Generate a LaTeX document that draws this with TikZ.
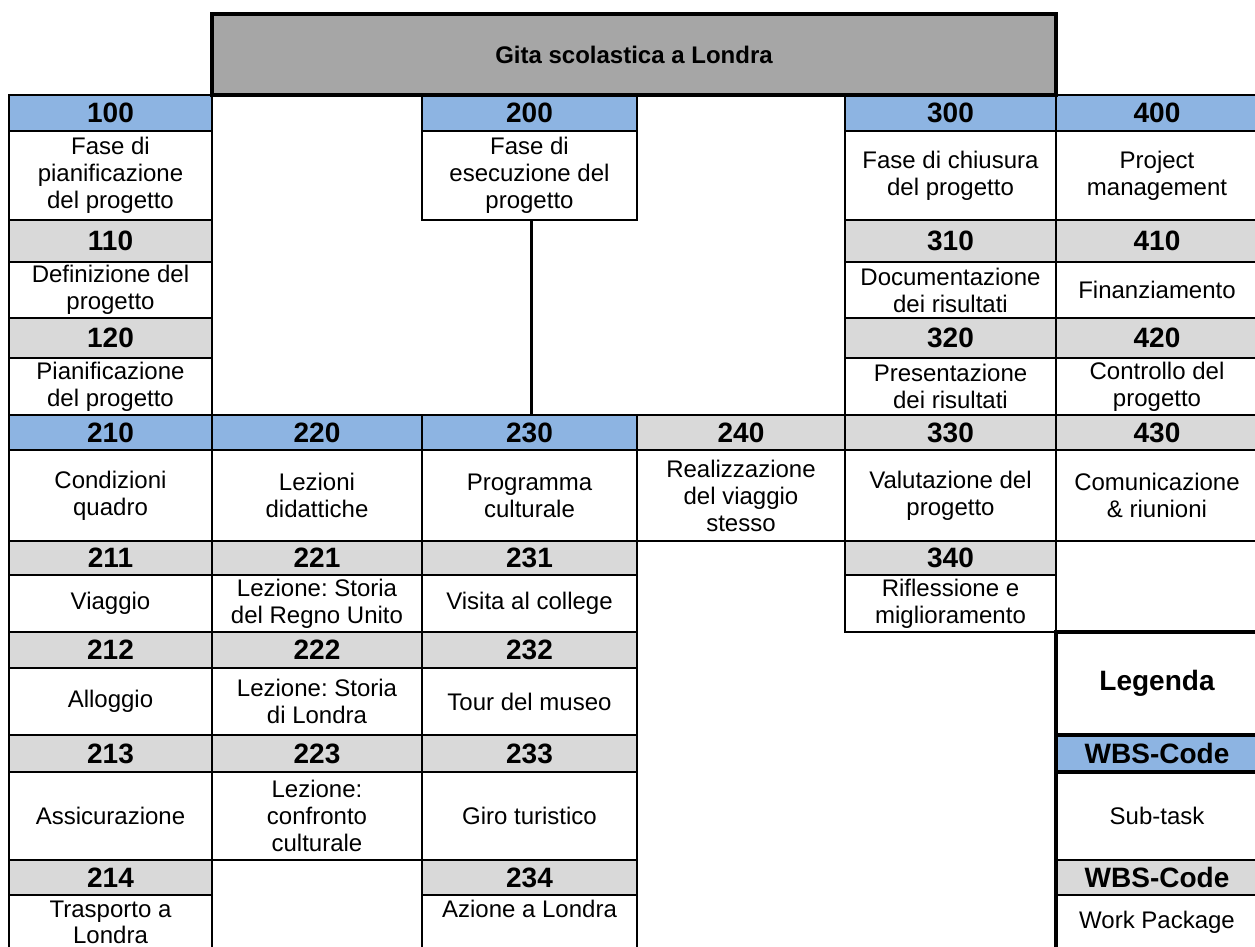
\documentclass[tikz,border=0pt]{standalone}
\usepackage{fontspec}
\setmainfont{Liberation Sans}
\definecolor{wbsblue}{HTML}{8DB4E2}
\definecolor{wbsgrey}{HTML}{D9D9D9}
\definecolor{wbstitle}{HTML}{A6A6A6}
\frenchspacing

\begin{document}
\begin{tikzpicture}[x=1pt,y=-1pt,
	cellbox/.style={draw, line width=1.6pt, inner sep=0pt, outer sep=0pt, anchor=north west, align=center},
	codeblue/.style={cellbox, fill=wbsblue, font=\fontsize{28}{30}\selectfont\bfseries},
	codegrey/.style={cellbox, fill=wbsgrey, font=\fontsize{28}{30}\selectfont\bfseries},
	task/.style={cellbox, fill=white, font=\fontsize{24}{27}\selectfont},
	sz/.style 2 args={minimum width=#1pt, minimum height=#2pt},
	heavy/.style={line width=4pt}
	]
	\useasboundingbox (0,0) rectangle (1255,946);
	
	% phases
	\node[codeblue, sz={203}{36}] (h100) at (9,95) {100};
	\node[task, sz={203}{89}] (t100) at (9,131) {Fase di\\pianificazione\\del progetto};
	\node[codeblue, sz={215}{36}] (h200) at (422,95) {200};
	\node[task, sz={215}{89}] (t200) at (422,131) {Fase di\\esecuzione del\\progetto};
	\node[codeblue, sz={211}{36}] (h300) at (845,95) {300};
	\node[task, sz={211}{89}] (t300) at (845,131) {Fase di chiusura\\del progetto};
	\node[codeblue, sz={202}{36}] (h400) at (1056,95) {400};
	\node[task, sz={202}{89}] (t400) at (1056,131) {Project\\management};
	
	% 110 / 310 / 410
	\node[codegrey, sz={203}{42}] (h110) at (9,220) {110};
	\node[task, sz={203}{56}] (t110) at (9,262) {Definizione del\\progetto};
	\node[codegrey, sz={211}{42}] (h310) at (845,220) {310};
	\node[task, sz={211}{56}] (t310) at (845,262) {Documentazione\\dei risultati};
	\node[codegrey, sz={202}{42}] (h410) at (1056,220) {410};
	\node[task, sz={202}{56}] (t410) at (1056,262) {Finanziamento};
	
	% 120 / 320 / 420
	\node[codegrey, sz={203}{40}] (h120) at (9,318) {120};
	\node[task, sz={203}{57}] (t120) at (9,358) {Pianificazione\\del progetto};
	\node[codegrey, sz={211}{40}] (h320) at (845,318) {320};
	\node[task, sz={211}{57}] (t320) at (845,358) {Presentazione\\dei risultati};
	\node[codegrey, sz={202}{40}] (h420) at (1056,318) {420};
	\node[task, sz={202}{57}] (t420) at (1056,358) {Controllo del\\progetto};
	
	% x10 / x20 / x30 / 240
	\node[codeblue, sz={203}{35}] (h210) at (9,415) {210};
	\node[task, sz={203}{91}] (t210) at (9,450) {Condizioni\\quadro};
	\node[codeblue, sz={210}{35}] (h220) at (212,415) {220};
	\node[task, sz={210}{91}] (t220) at (212,450) {Lezioni\\didattiche};
	\node[codeblue, sz={215}{35}] (h230) at (422,415) {230};
	\node[task, sz={215}{91}] (t230) at (422,450) {Programma\\culturale};
	\node[codegrey, sz={208}{35}] (h240) at (637,415) {240};
	\node[task, sz={208}{91}] (t240) at (637,450) {Realizzazione\\del viaggio\\stesso};
	\node[codegrey, sz={211}{35}] (h330) at (845,415) {330};
	\node[task, sz={211}{91}] (t330) at (845,450) {Valutazione del\\progetto};
	\node[codegrey, sz={202}{35}] (h430) at (1056,415) {430};
	\node[task, sz={202}{91}] (t430) at (1056,450) {Comunicazione\\\& riunioni};
	
	% x11 / 340
	\node[codegrey, sz={203}{34}] (h211) at (9,541) {211};
	\node[task, sz={203}{57}] (t211) at (9,575) {Viaggio};
	\node[codegrey, sz={210}{34}] (h221) at (212,541) {221};
	\node[task, sz={210}{57}] (t221) at (212,575) {Lezione: Storia\\del Regno Unito};
	\node[codegrey, sz={215}{34}] (h231) at (422,541) {231};
	\node[task, sz={215}{57}] (t231) at (422,575) {Visita al college};
	\node[codegrey, sz={211}{34}] (h340) at (845,541) {340};
	\node[task, sz={211}{57}] (t340) at (845,575) {Riflessione e\\miglioramento};
	
	% x12
	\node[codegrey, sz={203}{36}] (h212) at (9,632) {212};
	\node[task, sz={203}{67}] (t212) at (9,668) {Alloggio};
	\node[codegrey, sz={210}{36}] (h222) at (212,632) {222};
	\node[task, sz={210}{67}] (t222) at (212,668) {Lezione: Storia\\di Londra};
	\node[codegrey, sz={215}{36}] (h232) at (422,632) {232};
	\node[task, sz={215}{67}] (t232) at (422,668) {Tour del museo};
	
	% x13
	\node[codegrey, sz={203}{37}] (h213) at (9,735) {213};
	\node[task, sz={203}{88}] (t213) at (9,772) {Assicurazione};
	\node[codegrey, sz={210}{37}] (h223) at (212,735) {223};
	\node[task, sz={210}{88}] (t223) at (212,772) {Lezione:\\confronto\\culturale};
	\node[codegrey, sz={215}{37}] (h233) at (422,735) {233};
	\node[task, sz={215}{88}] (t233) at (422,772) {Giro turistico};
	
	% x14 (bottom edge runs off the page)
	\node[codegrey, sz={203}{35}] (h214) at (9,860) {214};
	\node[task, sz={203}{54}, font=\fontsize{24}{26}\selectfont] (t214) at (9,895) {Trasporto a\\Londra};
	\node[codegrey, sz={215}{35}] (h234) at (422,860) {234};
	\node[task, sz={215}{54}, font=\fontsize{24}{26}\selectfont] (t234) at (422,895) {Azione a Londra\\\mbox{}};
	
	% legend
	\node[task, sz={202}{103}, heavy, font=\fontsize{28}{30}\selectfont\bfseries] (legenda) at (1056,632) {Legenda};
	\node[task, sz={202}{88}] (subtask) at (1056,772) {Sub-task};
	\node[codegrey, sz={202}{35}] (codewp) at (1056,860) {WBS-Code};
	\node[task, sz={202}{54}] (workpkg) at (1056,895) {Work Package};
	\node[codeblue, sz={202}{37}, heavy] (codest) at (1056,735) {WBS-Code};
	\draw[heavy] (legenda.north west) -- (workpkg.south west);
	
	% link 200 -> 230
	\draw[line width=3.3pt] ([xshift=2pt]t200.south) -- ([xshift=2pt]h230.north);
	
	% title
	\node[cellbox, heavy, fill=wbstitle, sz={844}{81}, font=\fontsize{24}{26}\selectfont\bfseries] (gita) at (212,14) {Gita scolastica a Londra};
\end{tikzpicture}
\end{document}
